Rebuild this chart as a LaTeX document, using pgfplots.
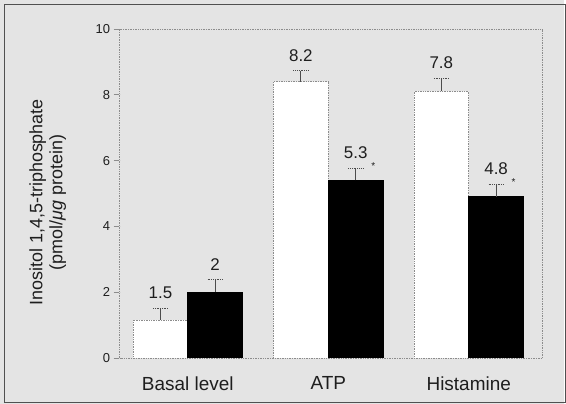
\documentclass[border=0pt]{standalone}
\usepackage{pgfplots}
\pgfplotsset{compat=1.18}
\usepackage{fontspec}
\setmainfont{Liberation Sans}
\definecolor{bg}{RGB}{228,228,228}
\definecolor{framec}{RGB}{80,80,80}
\definecolor{axgray}{RGB}{140,140,140}
\definecolor{txt}{RGB}{30,30,30}
\begin{document}
\begin{tikzpicture}
\fill[bg] (0,0) rectangle (566pt,405pt);
\draw[framec, line width=1.2pt] (4.5pt,1.5pt) rectangle (567pt,400.5pt);
\begin{axis}[
  at={(120pt,46pt)}, anchor=south west,
  scale only axis, width=424pt, height=330pt,
  xmin=-0.485, xmax=2.525, ymin=0, ymax=10,
  axis line style={draw=axgray, densely dotted, line width=0.7pt},
  ytick={0,2,4,6,8,10},
  xtick={0,1,2}, xticklabels={Basal level, ATP, Histamine},
  x tick style={draw=none},
  y tick style={draw=axgray, densely dotted, line width=0.7pt},
  tick align=outside, tick pos=left, major tick length=6pt,
  /pgf/number format/assume math mode=true,
  yticklabel style={font=\fontsize{13}{13}\selectfont, text=txt},
  xticklabel style={font=\fontsize{19}{19}\selectfont, text=txt, yshift=-9pt},
  ylabel={Inositol 1,4,5-triphosphate\\(pmol/\textit{μg} protein)},
  ylabel style={align=center, font=\fontsize{18}{20}\selectfont, text=txt, at={(axis description cs:-0.17,0.473)}, anchor=center},
]
\addplot[ybar, bar width=0.39, bar shift=0, fill=white, draw=axgray, densely dotted, line width=0.7pt,
  error bars/.cd, y dir=plus, y explicit,
  error bar style={solid, draw=black!70, line width=0.8pt},
  error mark options={rotate=90, mark size=7.5pt, draw=black!70, densely dotted, line width=0.8pt}]
  coordinates {(-0.195,1.15) +- (0,0.37) (0.805,8.4) +- (0,0.33) (1.805,8.1) +- (0,0.4)};
\addplot[ybar, bar width=0.39, bar shift=0, fill=black, draw=black, line width=0.7pt,
  error bars/.cd, y dir=plus, y explicit,
  error bar style={solid, draw=black!70, line width=0.8pt},
  error mark options={rotate=90, mark size=7.5pt, draw=black!70, densely dotted, line width=0.8pt}]
  coordinates {(0.195,2.0) +- (0,0.38) (1.195,5.4) +- (0,0.36) (2.195,4.9) +- (0,0.38)};
\addplot[only marks, mark=none, nodes near coords, point meta=explicit symbolic,
  nodes near coords style={anchor=south, yshift=6pt, font=\fontsize{17}{17}\selectfont, text=txt}]
  coordinates {(-0.195,1.52)[1.5] (0.195,2.38)[2] (0.805,8.73)[8.2] (1.195,5.76)[5.3] (1.805,8.5)[7.8] (2.195,5.28)[4.8]};
\addplot[only marks, mark=none, nodes near coords, point meta=explicit symbolic,
  nodes near coords style={anchor=center, yshift=2pt, font=\fontsize{10}{10}\selectfont, text=txt}]
  coordinates {(1.32,5.76)[*] (2.32,5.28)[*]};
\end{axis}
\end{tikzpicture}
\end{document}
